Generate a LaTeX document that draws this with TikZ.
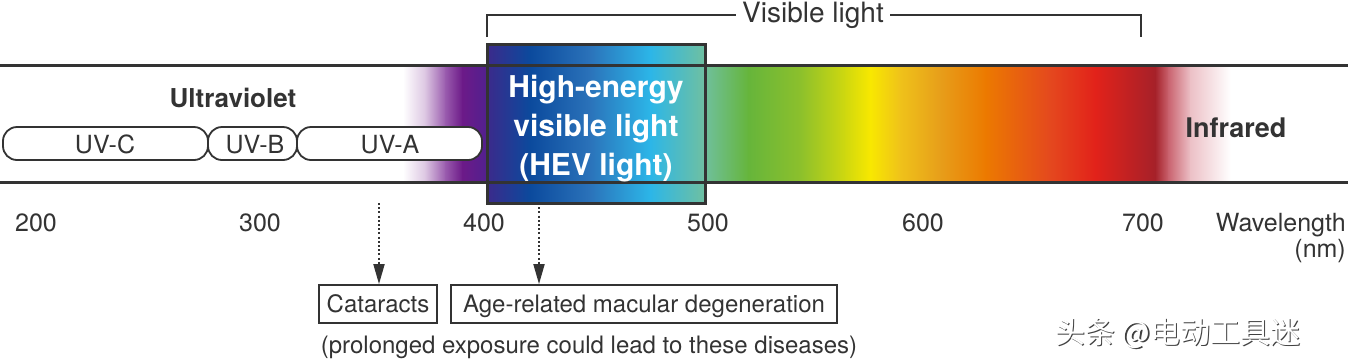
\documentclass[tikz,border=0pt]{standalone}
\usepackage{fontspec}
\setmainfont{TeX Gyre Heros}
\newfontfamily\cjk{Noto Sans CJK SC}
\usetikzlibrary{arrows.meta}
\definecolor{txt}{HTML}{333333}
\definecolor{ln}{HTML}{333333}
\definecolor{pA}{HTML}{DCC6E2}
\definecolor{pB}{HTML}{9A5CAE}
\definecolor{pC}{HTML}{6C1A88}
\definecolor{pD}{HTML}{4E2190}
\definecolor{hA}{HTML}{3B2A8B}
\definecolor{hB}{HTML}{0B4A9D}
\definecolor{hC}{HTML}{2B73BA}
\definecolor{hD}{HTML}{2CB6E8}
\definecolor{hE}{HTML}{70C0A0}
\definecolor{gA}{HTML}{6FC09C}
\definecolor{gB}{HTML}{66B53B}
\definecolor{gC}{HTML}{8CC02C}
\definecolor{gD}{HTML}{CFD80F}
\definecolor{yA}{HTML}{F8E800}
\definecolor{oA}{HTML}{EFC21A}
\definecolor{oB}{HTML}{E79E1A}
\definecolor{oC}{HTML}{EC7A00}
\definecolor{rA}{HTML}{E4481E}
\definecolor{rB}{HTML}{E2221A}
\definecolor{rC}{HTML}{A52129}
\definecolor{rD}{HTML}{C9626E}
\definecolor{rE}{HTML}{ECC0C6}
\begin{document}
\begin{tikzpicture}[x=1pt,y=-1pt,
  lbl/.style={inner sep=0pt,anchor=base,text=txt},
  pill/.style={draw=ln,line width=1.8pt,fill=white,rounded corners=14pt,minimum height=33pt,inner sep=0pt},
  disease/.style={draw=ln,line width=1.8pt,minimum height=38pt,inner sep=0pt,text height=17.3pt,text depth=0pt,text=txt,font=\fontsize{24}{28}\selectfont},
  dotarrow/.style={draw=ln,line width=1.8pt,dash pattern=on 2pt off 2.2pt,-{Triangle[length=20pt,width=11pt]}},
  band/.style={draw=ln,line width=3pt}]
\useasboundingbox (0,0) rectangle (1348,360);
% band fills
\foreach \xa/\ca/\xb/\cb in {403/white/425/pA,425/pA/445/pB,445/pB/462/pC,462/pC/490/pD,
  705/gA/748/gB,748/gB/800/gC,800/gC/845/gD,845/gD/870/yA,870/yA/900/oA,900/oA/940/oB,940/oB/985/oC,
  985/oC/1050/rA,1050/rA/1095/rB,1095/rB/1155/rC,1155/rC/1168/rD,1168/rD/1190/rE,1190/rE/1230/white}
  \fill[left color=\ca,right color=\cb,draw=none] (\xa,65) rectangle (\xb+0.7,182);
% HEV gradient
\foreach \xa/\ca/\xb/\cb in {487/hA/530/hB,530/hB/590/hC,590/hC/650/hD,650/hD/705/hE}
  \fill[left color=\ca,right color=\cb,draw=none] (\xa,44) rectangle (\xb+0.7,203);
% band lines
\coordinate (tl) at (0,65); \coordinate (tr) at (1348,65);
\coordinate (bl) at (0,182); \coordinate (br) at (1348,182);
\draw[band] (tl) -- (tr);
\draw[band] (bl) -- (br);
% UV pills
\node[pill,minimum width=205pt] (uvc) at (105.5,143.5) {};
\node[pill,minimum width=89pt] (uvb) at (252.5,143.5) {};
\node[pill,minimum width=185pt] (uva) at (389.5,143.5) {};
\node[lbl,font=\fontsize{25}{30}\selectfont] (tuvc) at (105,153) {UV-C};
\node[lbl,font=\fontsize{25}{30}\selectfont] (tuvb) at (255,153) {UV-B};
\node[lbl,font=\fontsize{25}{30}\selectfont] (tuva) at (390,153) {UV-A};
\node[lbl,font=\bfseries\fontsize{26}{30}\selectfont] (uv) at (233,107) {Ultraviolet};
\node[lbl,font=\bfseries\fontsize{27}{30}\selectfont] (ir) at (1236,137) {Infrared};
% HEV box
\node[draw=ln,line width=3pt,minimum width=218pt,minimum height=159pt,inner sep=0pt] (hev) at (596,123.5) {};
\node[inner sep=0pt,align=center,text=white,font=\bfseries\fontsize{30}{39}\selectfont] (hevt) at (596,128.5) {High-energy\\visible light\\(HEV light)};
% visible light bracket
\node[inner xsep=6pt,inner ysep=0pt,text=txt,font=\fontsize{28}{32}\selectfont] (vis) at (813,15) {Visible light};
\coordinate (vl) at (487,37);
\coordinate (vr) at (1141,37);
\draw[ln,line width=2.4pt] (vl) |- (vis.west);
\draw[ln,line width=2.4pt] (vis.east) -| (vr);
% scale
\foreach \n/\x in {200/36,300/260,400/484,500/708,600/923,700/1143}
  \node[lbl,font=\fontsize{25}{30}\selectfont] (n\n) at (\x,231) {\n};
\node[lbl,anchor=base east,font=\fontsize{25}{30}\selectfont] (wl) at (1346,231) {Wavelength};
\node[lbl,anchor=base east,font=\fontsize{25}{30}\selectfont] (nm) at (1346,257) {(nm)};
% diseases
\node[disease,minimum width=118pt] (cat) at (378,304) {Cataracts};
\node[disease,minimum width=386pt] (amd) at (644,304) {Age-related macular degeneration};
\coordinate (a1) at (379,203);
\coordinate (a2) at (539,203);
\draw[dotarrow] (a1) -- (cat.north -| a1);
\draw[dotarrow] (a2) -- (amd.north -| a2);
\node[lbl,font=\fontsize{24}{28}\selectfont] (cap) at (589,353) {(prolonged exposure could lead to these diseases)};
% watermark
\node[inner sep=0pt,anchor=base west,text=black!75,font=\cjk\fontsize{30}{34}\selectfont] (wm0) at (1056.5,344.5) {头条 @电动工具迷};
\node[inner sep=0pt,anchor=base west,text=white,font=\cjk\fontsize{30}{34}\selectfont] (wm) at (1055,343) {头条 @电动工具迷};
\end{tikzpicture}
\end{document}
